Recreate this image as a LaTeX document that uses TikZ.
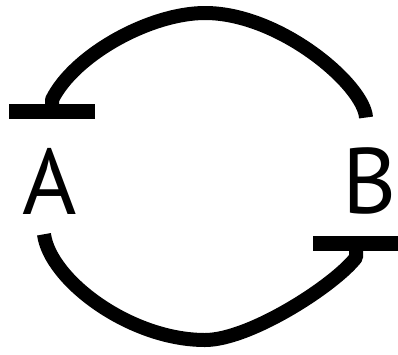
\documentclass[tikz,border=0pt]{standalone}
\usepackage{fontspec}
\setmainfont{PT Sans}
\usetikzlibrary{arrows.meta,calc}
\tikzset{
  letter/.style={inner sep=0pt,font=\fontsize{93}{100}\selectfont},
  inhib/.style={-{Bar[width=86pt,line width=15pt]},line width=14pt,line join=round}
}
\begin{document}
\begin{tikzpicture}[x=1pt,y=-1pt]
  \useasboundingbox (0,0) rectangle (398,354);
  \node[letter] (A) at (50,181) {A};
  \node[letter] (B) at (370,181) {B};

  % upper connector, B to A
  \draw[inhib] ($(B.north)+(-4,-30)$) .. controls (364,85) and (280,13) .. (205,13)
    .. controls (150,13) and (74,55) .. ($(A.north)+(2,-48)$) -- ($(A.north)+(2,-29)$);
  % lower connector, A to B
  \draw[inhib] ($(A.south)+(-6,20)$) .. controls (50,280) and (130,340) .. (205,340)
    .. controls (250,340) and (335,285) .. ($(B.south)+(-14,43)$) -- ($(B.south)+(-14,21)$);
\end{tikzpicture}
\end{document}
